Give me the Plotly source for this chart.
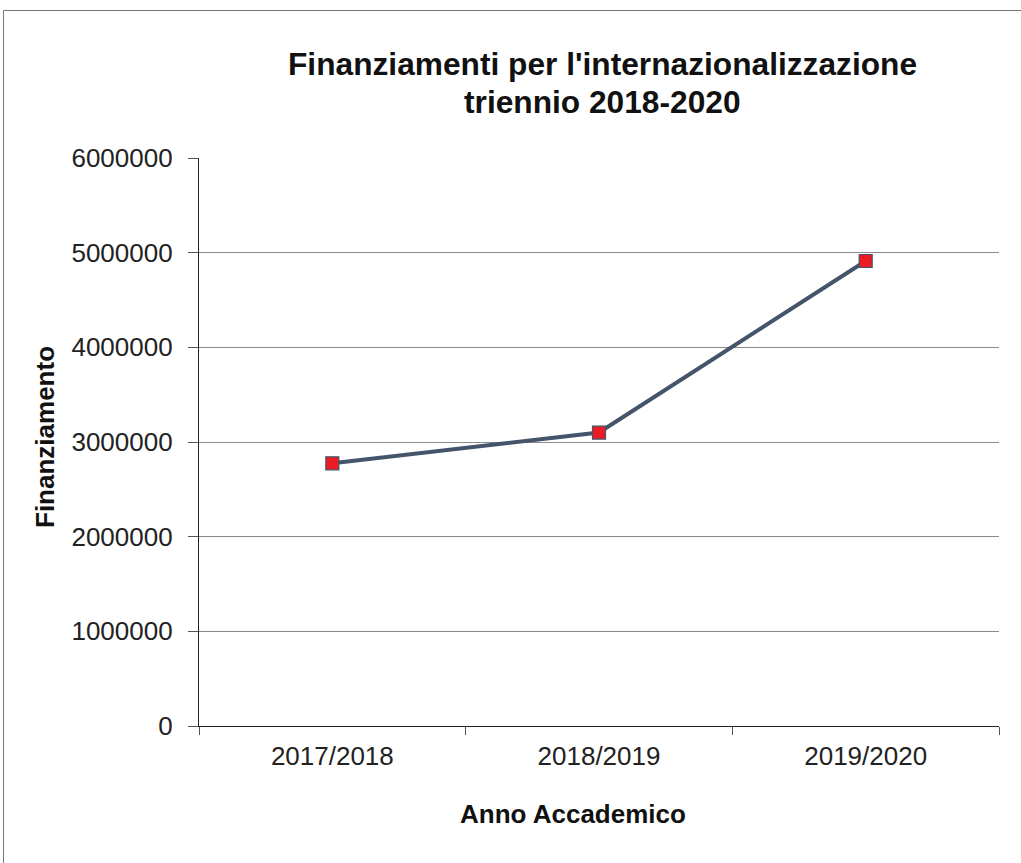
import plotly.graph_objects as go

categories = ["2017/2018", "2018/2019", "2019/2020"]
finanziamento = [2775000, 3100000, 4912000]
y_ticks = [0, 1000000, 2000000, 3000000, 4000000, 5000000, 6000000]

W, H = 1021, 863
# target plot area in screenshot coords: x 199..999, y 158..726
L, R = 199, W - 999
T, B = 158, H - 726
PW, PH = W - L - R, H - T - B


def px(xs):
    return (xs - L) / PW


def py(ys):
    return (H - B - ys) / PH


fig = go.Figure()
fig.add_trace(go.Scatter(
    x=categories, y=finanziamento, mode="lines+markers",
    line=dict(color="#44546A", width=4),
    marker=dict(symbol="square", size=13, color="#ED1C24",
                line=dict(color="#44546A", width=1.2)),
    showlegend=False, hoverinfo="x+y"))

fig.update_layout(
    width=W, height=H,
    margin=dict(l=L, r=R, t=T, b=B),
    paper_bgcolor="white", plot_bgcolor="white",
    font=dict(family="Liberation Sans, Arial, sans-serif", color="#222222"),
    xaxis=dict(type="category", range=[-0.5, 2.5], showgrid=False,
               showline=True, linecolor="#222222", linewidth=1.2,
               ticks="outside", tickson="boundaries", ticklen=8,
               tickcolor="#555555", tickfont=dict(size=26), ticklabelstandoff=7),
    yaxis=dict(range=[0, 6000000], tickvals=y_ticks,
               ticktext=[str(v) for v in y_ticks],
               showgrid=True, gridcolor="#8a8a8a", gridwidth=1,
               showline=True, linecolor="#222222", linewidth=1.2,
               ticks="outside", ticklen=10, tickcolor="#555555",
               tickfont=dict(size=26), zeroline=False, ticklabelstandoff=10),
)

fig.add_annotation(text="<b>Finanziamenti per l'internazionalizzazione</b>",
                   xref="paper", yref="paper", x=px(602), y=py(64),
                   showarrow=False, font=dict(size=31.7, color="#111111"),
                   xanchor="center", yanchor="middle")
fig.add_annotation(text="<b>triennio 2018-2020</b>",
                   xref="paper", yref="paper", x=px(602), y=py(102),
                   showarrow=False, font=dict(size=31.7, color="#111111"),
                   xanchor="center", yanchor="middle")
fig.add_annotation(text="<b>Finanziamento</b>", textangle=-90,
                   xref="paper", yref="paper", x=px(45), y=py(437),
                   showarrow=False, font=dict(size=26, color="#111111"),
                   xanchor="center", yanchor="middle")
fig.add_annotation(text="<b>Anno Accademico</b>",
                   xref="paper", yref="paper", x=px(573), y=py(814),
                   showarrow=False, font=dict(size=26, color="#111111"),
                   xanchor="center", yanchor="middle")

fig.add_shape(type="rect", xref="paper", yref="paper",
              x0=px(3.5), x1=px(1040), y0=py(880), y1=py(10.5),
              line=dict(color="#777777", width=1), layer="below")

fig.write_html("out.html", config={"displayModeBar": False},
               post_script="document.body.style.margin='0';document.body.style.overflow='hidden';")
